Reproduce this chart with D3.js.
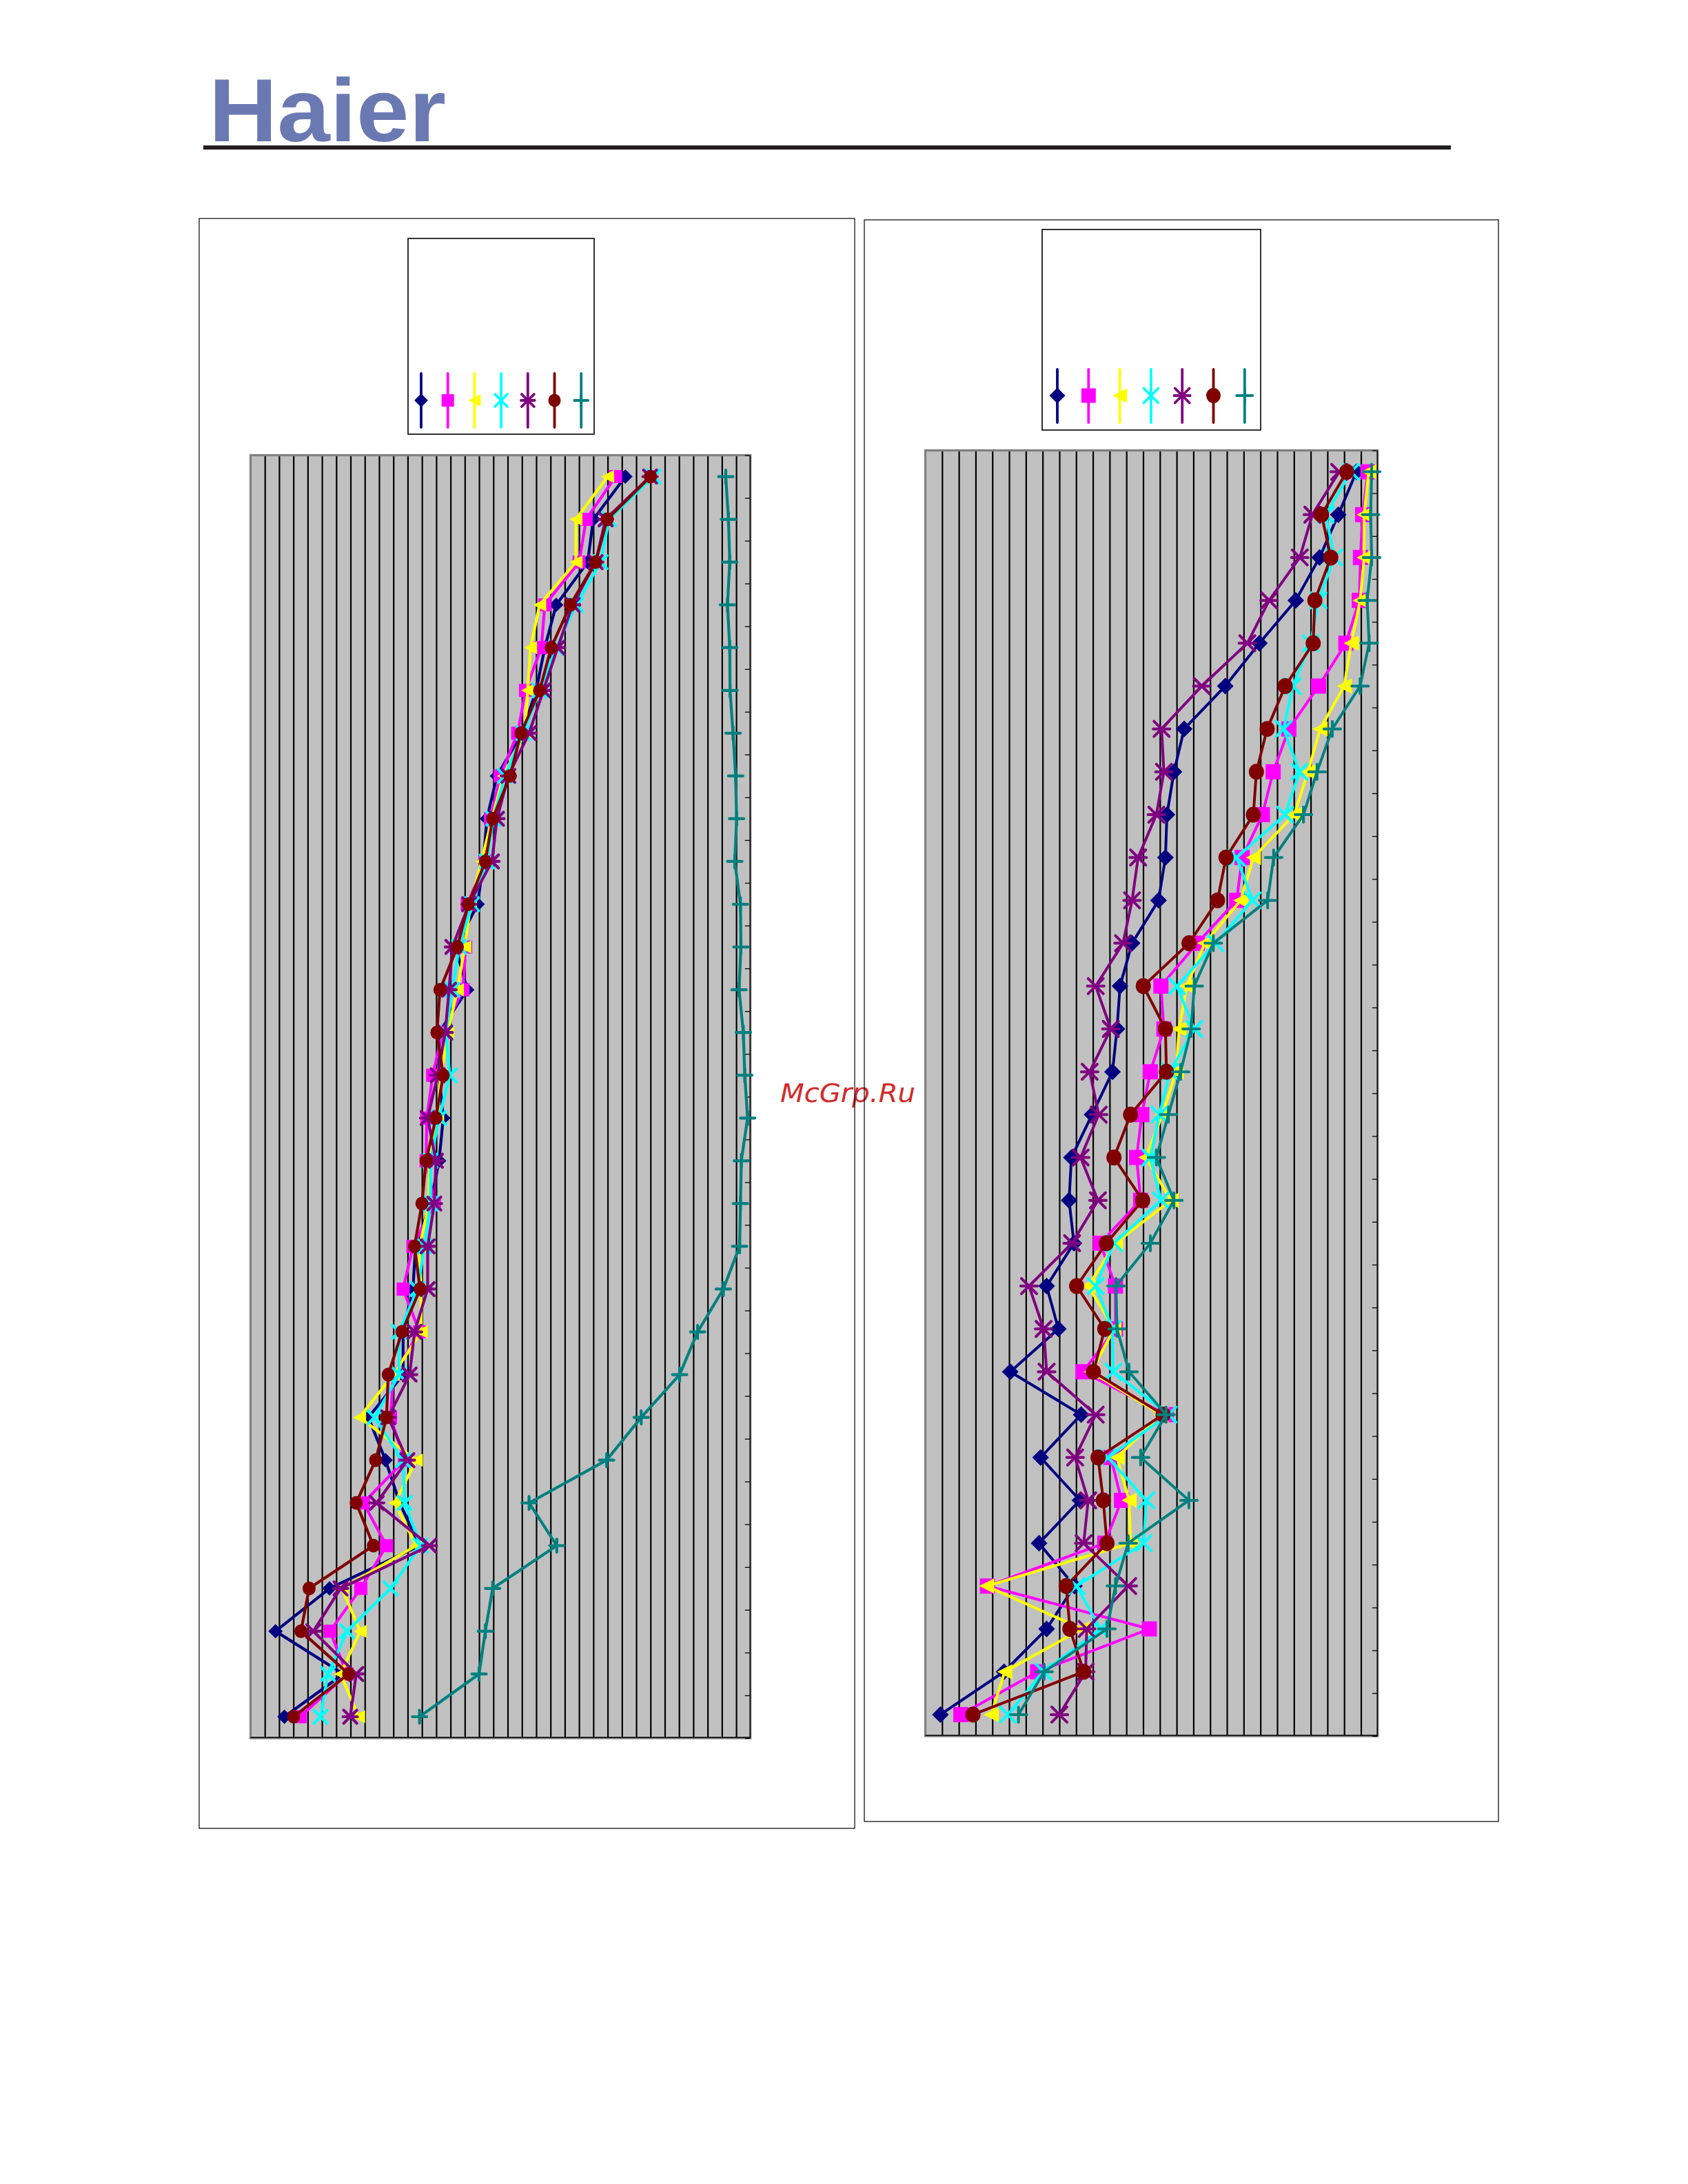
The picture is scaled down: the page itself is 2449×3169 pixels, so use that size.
<!DOCTYPE html>
<html><head><meta charset="utf-8">
<script src="https://cdn.jsdelivr.net/npm/d3@7"></script>
<style>html,body{margin:0;padding:0;background:#fff}</style>
</head><body>
<script>
// ---------------- DATA ----------------
const categories = [1,2,3,4,5,6,7,8,9,10,11,12,13,14,15,16,17,18,19,20,21,22,23,24,25,26,27,28,29,30];
const seriesNames = ["Series 1","Series 2","Series 3","Series 4","Series 5","Series 6","Series 7"];
const markerTypes = ["diamond","square","triangle","x","star","circle","plus"];
const seriesColors = ["#000080","#FF00FF","#FFFF00","#00FFFF","#800080","#800000","#008080"];

// left chart (value in gridline units, axis 0..35)
const leftNavy    = [26.24,24.0,23.6,21.4,20.6,20.0,19.0,17.25,16.55,16.3,15.9,14.36,15.17,13.2,13.2,13.49,13.2,12.6,11.55,11.37,10.68,10.68,8.25,9.45,10.44,11.83,5.53,1.75,6.5,2.37];
const leftMagenta = [25.55,23.5,23.0,20.6,20.36,19.25,18.7,17.48,16.8,16.44,15.17,15.06,14.87,13.44,12.75,12.34,12.29,12.87,11.37,10.68,11.83,10.0,9.8,10.79,7.9,9.52,7.72,5.56,6.76,3.48];
const leftYellow  = [25.0,22.78,22.78,20.24,19.6,19.4,19.2,17.7,16.9,16.16,15.4,15.0,14.48,13.8,13.33,13.1,12.5,12.5,11.83,11.94,11.94,10.0,7.63,11.6,10.1,11.6,6.4,7.68,6.3,7.56];
const leftCyan    = [28.2,25.1,24.5,22.78,21.4,20.24,19.1,17.8,17.0,16.55,15.5,14.6,14.13,13.67,13.95,13.2,12.6,12.6,12.17,11.7,10.4,10.4,8.67,10.68,10.79,11.9,9.8,6.76,5.42,4.9];
const leftPurple  = [27.97,24.86,24.16,22.55,21.5,20.5,19.5,18.05,17.25,16.9,15.3,14.13,13.9,13.63,13.1,12.4,12.98,12.87,12.4,12.4,11.48,11.14,9.64,10.98,8.83,12.52,6.3,4.4,7.4,6.98];
const leftMaroon  = [28.0,24.97,24.16,22.39,21.05,20.24,18.93,18.17,16.95,16.44,15.24,14.48,13.26,13.05,13.49,12.98,12.29,12.0,11.48,11.87,10.6,9.64,9.52,8.76,7.4,8.6,4.1,3.53,6.87,3.02];
const leftTeal    = [33.27,33.46,33.55,33.39,33.55,33.57,33.78,33.96,34.03,33.9,34.3,34.33,34.2,34.5,34.6,34.8,34.36,34.3,34.24,33.1,31.3,30.04,27.35,24.93,19.5,21.44,16.95,16.44,16.0,11.83];

// right chart (value in gridline units, axis 0..27)
const rightNavy    = [25.73,24.65,23.53,22.11,19.94,17.9,15.45,14.84,14.42,14.33,13.92,12.34,11.62,11.44,11.17,9.95,8.72,8.58,8.87,7.24,7.94,5.07,9.3,6.88,9.23,6.79,8.9,7.24,4.7,0.9];
const rightMagenta = [26.42,26.1,25.97,25.9,25.1,23.47,21.7,20.76,20.12,18.91,18.58,16.23,14.06,14.24,13.43,12.92,12.61,12.85,10.44,11.35,11.35,9.41,14.37,11.07,11.71,10.71,3.71,13.37,6.7,2.12];
const rightYellow  = [26.46,26.19,26.19,25.95,25.42,25.0,23.56,22.84,22.02,19.58,18.82,16.68,15.6,15.15,14.97,14.15,13.16,14.66,11.35,9.72,11.26,9.9,14.06,11.44,12.16,12.25,3.66,9.35,4.74,3.93];
const rightCyan    = [25.4,23.9,24.4,23.47,23.0,21.93,21.39,22.33,21.48,18.58,19.53,17.32,15.02,16.05,14.6,13.97,13.43,14.06,11.26,10.17,11.17,11.22,14.51,10.9,13.19,13.03,9.03,10.44,7.06,4.92];
const rightPurple  = [24.7,23.1,22.35,20.52,19.22,16.5,14.1,14.24,13.79,12.7,12.34,11.8,10.17,11.07,9.81,10.35,9.27,10.3,8.76,6.19,7.06,7.24,10.17,8.94,9.72,9.45,12.11,9.63,9.57,8.0];
const rightMaroon  = [25.15,23.65,24.2,23.25,23.15,21.48,20.4,19.76,19.58,17.95,17.44,15.74,13.01,14.33,14.39,12.25,11.26,12.97,10.8,9.03,10.71,10.03,14.19,10.31,10.62,10.84,8.41,8.63,9.45,2.84];
const rightTeal    = [26.64,26.58,26.64,26.37,26.49,25.95,24.29,23.38,22.57,20.79,20.43,17.19,16.05,15.87,15.24,14.51,13.79,14.84,13.43,11.38,11.44,12.16,14.37,12.85,15.73,12.11,11.35,10.84,7.09,5.56];

const leftSeries  = [leftNavy,leftMagenta,leftYellow,leftCyan,leftPurple,leftMaroon,leftTeal];
const rightSeries = [rightNavy,rightMagenta,rightYellow,rightCyan,rightPurple,rightMaroon,rightTeal];

// ---------------- DRAW ----------------
const W = 2449, H = 3169;
const svg = d3.select("body").append("svg").attr("width",W).attr("height",H)
  .attr("xmlns","http://www.w3.org/2000/svg");
svg.append("rect").attr("width",W).attr("height",H).attr("fill","#fff");

// header logo + rule
svg.append("text").attr("x",303).attr("y",205)
  .attr("font-family","Liberation Sans, Arial, sans-serif").attr("font-weight","bold")
  .attr("font-size",130).attr("fill","#6B79B3")
  .attr("textLength",344).attr("lengthAdjust","spacingAndGlyphs").text("Haier");
svg.append("rect").attr("x",295).attr("y",211).attr("width",1810).attr("height",6).attr("fill","#231F20");

function markerPath(type, s){
  const h = s/2;
  switch(type){
    case "diamond": return `M0,${-h*1.1}L${h*1.1},0L0,${h*1.1}L${-h*1.1},0Z`;
    case "square": return `M${-h},${-h}H${h}V${h}H${-h}Z`;
    case "triangle": return `M${-h},0L${h},${-h}L${h},${h}Z`;
    case "x": return `M${-h},${-h}L${h},${h}M${-h},${h}L${h},${-h}`;
    case "star": return `M${-h},${-h}L${h},${h}M${-h},${h}L${h},${-h}M${-h*1.1},0H${h*1.1}`;
    case "plus": return `M${-h*1.1},0H${h*1.1}M0,${-h}V${h}`;
    default: return "";
  }
}
function drawMarker(g, type, color, cx, cy, s, sw){
  if(type==="circle"){
    g.append("ellipse").attr("cx",cx).attr("cy",cy).attr("rx",s/2).attr("ry",s/2*1.05).attr("fill",color);
    return;
  }
  const filled = (type==="diamond"||type==="square"||type==="triangle");
  const p = g.append("path").attr("d",markerPath(type,s)).attr("transform",`translate(${cx},${cy})`);
  if(filled) p.attr("fill",color);
  else p.attr("fill","none").attr("stroke",color).attr("stroke-width",sw).attr("stroke-linecap","round");
}

function drawChart(opt){
  const g = svg.append("g");
  const x = d3.scaleLinear().domain([0,opt.max]).range([opt.x0,opt.x1]);
  const y = d3.scaleBand().domain(categories).range([opt.y0,opt.y1]);
  const yb = d3.scaleLinear().domain([0,categories.length]).range([opt.y0,opt.y1]);
  // background
  g.append("rect").attr("x",opt.x0).attr("y",opt.y0).attr("width",opt.x1-opt.x0).attr("height",opt.y1-opt.y0).attr("fill","#C0C0C0");
  // vertical gridlines
  g.append("g").attr("transform",`translate(0,${opt.y1})`)
    .call(d3.axisBottom(x).tickValues(d3.range(1,opt.max)).tickSize(-(opt.y1-opt.y0)).tickFormat(""))
    .call(s=>{s.select(".domain").remove(); s.selectAll("line").attr("stroke","#000").attr("stroke-width",2.2);});
  // border
  g.append("rect").attr("x",opt.x0).attr("y",opt.y0).attr("width",opt.x1-opt.x0).attr("height",opt.y1-opt.y0)
    .attr("fill","none").attr("stroke","#808080").attr("stroke-width",3.2);
  // axis lines (right & bottom)
  g.append("g").attr("transform",`translate(${opt.x1-1},0)`)
    .call(d3.axisRight(yb).tickValues(d3.range(0,categories.length+1)).tickSize(-7).tickFormat("").tickSizeOuter(0))
    .call(s=>{s.select(".domain").attr("stroke","#000").attr("stroke-width",1.4); s.selectAll("line").attr("stroke","#000").attr("stroke-width",1.3);});
  g.append("line").attr("x1",opt.x0).attr("x2",opt.x1).attr("y1",opt.y1-1).attr("y2",opt.y1-1).attr("stroke","#000").attr("stroke-width",1.4);
  // series
  opt.series.forEach((vals,i)=>{
    const pts = vals.map((v,k)=>[x(v), y(categories[k])+y.bandwidth()/2]);
    g.append("path").attr("d",d3.line()(pts)).attr("fill","none").attr("stroke",seriesColors[i])
      .attr("stroke-width",opt.lw).attr("stroke-linejoin","round");
    pts.forEach(p=>drawMarker(g, markerTypes[i], seriesColors[i], p[0], p[1], opt.ms, opt.lw));
  });
  // legend
  g.append("rect").attr("x",opt.leg.x0).attr("y",opt.leg.y0).attr("width",opt.leg.x1-opt.leg.x0).attr("height",opt.leg.y1-opt.leg.y0)
    .attr("fill","#fff").attr("stroke","#000").attr("stroke-width",1.6);
  seriesNames.forEach((nm,i)=>{
    const lx = opt.leg.kx + i*opt.leg.dx;
    g.append("line").attr("x1",lx).attr("x2",lx).attr("y1",opt.leg.ly0).attr("y2",opt.leg.ly1)
      .attr("stroke",seriesColors[i]).attr("stroke-width",3.8).attr("stroke-linecap","round");
    drawMarker(g, markerTypes[i], seriesColors[i], lx, opt.leg.my, opt.leg.ms, 3.8);
  });
}

// watermark (behind frames)
svg.append("text").attr("x",1132).attr("y",1599)
  .attr("font-family","DejaVu Sans, sans-serif").attr("font-style","italic").attr("font-size",37)
  .attr("fill","#D42A2A").attr("textLength",196).attr("lengthAdjust","spacingAndGlyphs").text("McGrp.Ru");

// outer frames
svg.append("rect").attr("x",289).attr("y",317).attr("width",951).attr("height",2336)
  .attr("fill","none").attr("stroke","#000").attr("stroke-width",1.2);
svg.append("rect").attr("x",1254).attr("y",319).attr("width",920).attr("height",2324)
  .attr("fill","none").attr("stroke","#000").attr("stroke-width",1.2);

drawChart({x0:363.5,x1:1088.8,y0:660.5,y1:2522,max:35,series:leftSeries,lw:4.2,ms:19,
  leg:{x0:592,y0:346,x1:862,y1:630,kx:611,dx:38.7,ly0:542,ly1:620,my:581,ms:18}});
drawChart({x0:1342.5,x1:1998.8,y0:653.5,y1:2519,max:27,series:rightSeries,lw:4,ms:22,
  leg:{x0:1512,y0:333,x1:1829,y1:624,kx:1534,dx:45.3,ly0:536,ly1:613,my:574,ms:21}});
</script>
</body></html>
